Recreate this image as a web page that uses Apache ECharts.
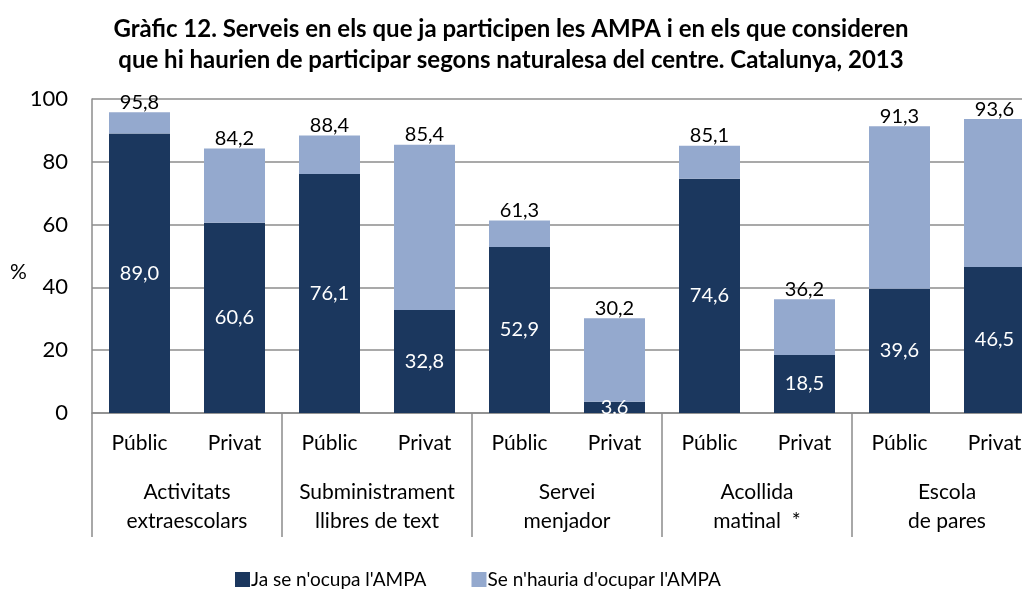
<!DOCTYPE html>
<html>
<head>
<meta charset="utf-8">
<script src="https://cdn.jsdelivr.net/npm/echarts@6/dist/echarts.min.js"></script>
<style>
  html, body { margin: 0; padding: 0; background: #fff; }
  #chart { width: 1022px; height: 597px; }
</style>
</head>
<body>
<div id="chart"></div>
<script>
// dades del gràfic
const groups = ['Activitats\nextraescolars', 'Subministrament\nllibres de text', 'Servei\nmenjador', 'Acollida\nmatinal  *', 'Escola\nde pares']
const types = ['Públic', 'Privat', 'Públic', 'Privat', 'Públic', 'Privat', 'Públic', 'Privat', 'Públic', 'Privat']
const jaOcupa = [89.0, 60.6, 76.1, 32.8, 52.9, 3.6, 74.6, 18.5, 39.6, 46.5]
const totals = [95.8, 84.2, 88.4, 85.4, 61.3, 30.2, 85.1, 36.2, 91.3, 93.6]
const yTicks = [0, 20, 40, 60, 80, 100]

const fmt = v => v.toFixed(1).replace('.', ',')
const extra = totals.map((t, i) => +(t - jaOcupa[i]).toFixed(1))

const FONT = 'Lato'
const DARK = '#1b375e'
const LIGHT = '#94a9ce'
const GRID = '#8c8c8c'

const chart = echarts.init(document.getElementById('chart'))

const option = {
  animation: false,
  textStyle: { fontFamily: FONT },
  title: {
    text: 'Gràfic 12. Serveis en els que ja participen les AMPA i en els que consideren\nque hi haurien de participar segons naturalesa del centre. Catalunya, 2013',
    left: 'center',
    top: 9,
    textStyle: { fontFamily: FONT, fontSize: 24, fontWeight: 'bold', color: '#000', lineHeight: 31 }
  },
  legend: {
    bottom: 3,
    left: 230,
    itemWidth: 15,
    itemHeight: 15,
    itemGap: 45,
    icon: 'rect',
    textStyle: { fontFamily: FONT, fontSize: 19, color: '#000', padding: [0, 0, 0, -4] },
    data: ["Ja se n'ocupa l'AMPA", "Se n'hauria d'ocupar l'AMPA"]
  },
  // el símbol % a l'esquerra de l'eix
  graphic: [
    { type: 'text', left: 10, top: 262, style: { text: '%', font: '21px Lato', fill: '#000' } }
  ],
  grid: { left: 92, width: 950, top: 99, bottom: 184, outerBoundsMode: 'none' },
  xAxis: [
    {
      type: 'category',
      data: types,
      axisLine: { show: true, lineStyle: { color: GRID, width: 1.5 } },
      axisTick: { show: false },
      axisLabel: { fontFamily: FONT, fontSize: 21, color: '#000', margin: 20 }
    },
    {
      type: 'category',
      data: groups,
      position: 'bottom',
      axisLine: { show: false },
      axisTick: { show: true, length: 124, interval: 0, lineStyle: { color: GRID, width: 1.5 } },
      axisLabel: { fontFamily: FONT, fontSize: 21, color: '#000', margin: 65, lineHeight: 29, interval: 0 }
    }
  ],
  yAxis: {
    type: 'value',
    min: yTicks[0],
    max: yTicks[yTicks.length - 1],
    interval: 20,
    axisLine: { show: true, lineStyle: { color: GRID, width: 1.5 } },
    axisTick: { show: false },
    splitLine: { lineStyle: { color: GRID, width: 1.5 } },
    axisLabel: { fontFamily: FONT, fontSize: 22, color: '#000', margin: 24 }
  },
  series: [
    {
      name: "Ja se n'ocupa l'AMPA",
      type: 'bar',
      stack: 'a',
      barWidth: 61,
      itemStyle: { color: DARK },
      data: jaOcupa,
      label: {
        show: true,
        position: 'inside',
        color: '#fff',
        fontFamily: FONT,
        fontSize: 20,
        formatter: p => fmt(p.value)
      }
    },
    {
      name: "Se n'hauria d'ocupar l'AMPA",
      type: 'bar',
      stack: 'a',
      barWidth: 61,
      itemStyle: { color: LIGHT },
      data: extra,
      label: {
        show: true,
        position: 'top',
        distance: 0,
        color: '#000',
        fontFamily: FONT,
        fontSize: 20,
        formatter: p => fmt(totals[p.dataIndex])
      }
    }
  ]
}

chart.setOption(option)
</script>
</body>
</html>
